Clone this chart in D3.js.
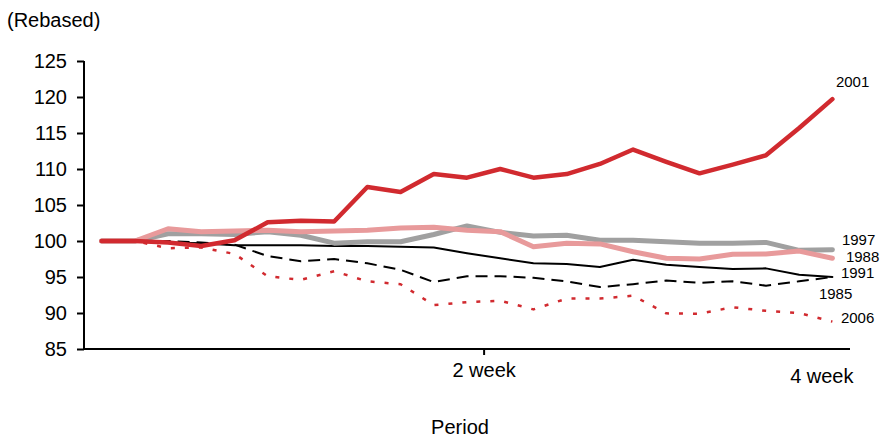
<!DOCTYPE html>
<html>
<head>
<meta charset="utf-8">
<script src="https://cdn.jsdelivr.net/npm/d3@7"></script>
<style>
  html, body { margin: 0; padding: 0; background: #fff; }
  svg { display: block; font-family: "Liberation Sans", Arial, sans-serif; }
</style>
</head>
<body>
<svg id="chart" width="881" height="437"></svg>
<script>
// ---- data ----
const days = d3.range(0, 23); // trading days (23 observations)
const xTickLabels = ["2 week", "4 week"];
const xTickBoundaries = [12, 23]; // category boundaries where ticks sit
const yTicks = [85, 90, 95, 100, 105, 110, 115, 120, 125];

const s2001 = [100, 100, 99.8, 99.3, 100.1, 102.6, 102.8, 102.7, 107.5, 106.8, 109.3, 108.8, 110.0, 108.8, 109.3, 110.7, 112.7, 111.0, 109.4, 110.6, 111.9, 115.7, 119.7];
const s1988 = [100, 100, 101.7, 101.3, 101.4, 101.5, 101.3, 101.4, 101.5, 101.8, 101.9, 101.5, 101.3, 99.2, 99.7, 99.6, 98.5, 97.6, 97.5, 98.15, 98.2, 98.6, 97.6];
const s1997 = [100, 100, 101.0, 101.0, 100.9, 101.3, 100.8, 99.7, 99.9, 99.9, 100.9, 102.1, 101.2, 100.7, 100.8, 100.1, 100.1, 99.9, 99.7, 99.7, 99.8, 98.7, 98.8];
const s1991 = [100, 100, 99.8, 99.7, 99.4, 99.4, 99.4, 99.3, 99.3, 99.2, 99.1, 98.3, 97.6, 96.9, 96.8, 96.4, 97.4, 96.7, 96.4, 96.1, 96.2, 95.3, 95.0];
const s1985 = [100, 100, 100, 99.8, 99.5, 97.9, 97.2, 97.5, 96.9, 96.0, 94.3, 95.1, 95.1, 94.9, 94.4, 93.6, 94.0, 94.5, 94.2, 94.4, 93.8, 94.4, 95.0];
const s2006 = [100, 100, 99.0, 99.1, 98.2, 95.1, 94.6, 95.8, 94.4, 94.0, 91.1, 91.5, 91.7, 90.5, 92.0, 92.0, 92.4, 89.95, 89.9, 90.8, 90.3, 90.0, 88.8];

const seriesNames = ["1985", "2006", "1991", "1997", "1988", "2001"];
const seriesValues = [s1985, s2006, s1991, s1997, s1988, s2001];

// ---- styles ----
const styles = {
  "2001": { color: "#d12a2f", width: 4.5, dash: null },
  "1988": { color: "#e89a9b", width: 5, dash: null },
  "1997": { color: "#a0a0a0", width: 5, dash: null },
  "1991": { color: "#000000", width: 2, dash: null },
  "1985": { color: "#000000", width: 2, dash: "12,7" },
  "2006": { color: "#d12a2f", width: 2.5, dash: "4,10" }
};
const labelPos = {
  "2001": { dx: 3.5, dy: -12 },
  "1997": { dx: 9.5, dy: -4.6 },
  "1988": { dx: 13.5, dy: 3.7 },
  "1991": { dx: 8.5, dy: 1.4 },
  "1985": { dx: -13.5, dy: 22.4 },
  "2006": { dx: 8.5, dy: 1.6 }
};

const svg = d3.select("#chart");
const mLeft = 85, mRight = 849, mTop = 61, mBottom = 349;

const x = d3.scaleBand().domain(days).range([mLeft, mRight]).padding(0);
const xb = d3.scaleLinear().domain([0, days.length]).range([mLeft, mRight]);
const y = d3.scaleLinear().domain([85, 125]).range([mBottom, mTop]);
const cx = d => x(d) + x.bandwidth() / 2;

// y axis
const yAxis = svg.append("g")
  .attr("transform", `translate(${mLeft - 1},0)`)
  .call(d3.axisLeft(y).tickValues(yTicks).tickSize(7).tickSizeOuter(0).tickPadding(10));
yAxis.select(".domain").attr("stroke", "#000").attr("stroke-width", 2)
  .attr("d", `M0,${mTop}V${mBottom + 1}`);
yAxis.selectAll(".tick line").attr("stroke", "#000").attr("stroke-width", 2);
yAxis.selectAll(".tick text").attr("font-size", 20).attr("fill", "#000")
  .attr("font-family", "Liberation Sans, Arial, sans-serif");

// x axis
const xAxis = svg.append("g")
  .attr("transform", `translate(0,${mBottom})`)
  .call(d3.axisBottom(xb).tickValues(xTickBoundaries)
    .tickFormat((d, i) => xTickLabels[i]).tickSize(6).tickSizeOuter(0).tickPadding(8));
xAxis.select(".domain").attr("stroke", "#000").attr("stroke-width", 2)
  .attr("d", `M${mLeft - 2},0H${mRight + 1}`);
xAxis.selectAll(".tick line").attr("stroke", "#000").attr("stroke-width", 2);
xAxis.selectAll(".tick text").attr("font-size", 20).attr("fill", "#000")
  .attr("font-family", "Liberation Sans, Arial, sans-serif");
xAxis.selectAll(".tick").filter(d => d === days.length).select("line").remove();
xAxis.selectAll(".tick").filter(d => d === days.length).select("text")
  .attr("text-anchor", "end").attr("dx", 4).attr("dy", "1.0em");

// axis titles
svg.append("text").attr("x", 7).attr("y", 27).attr("font-size", 20).text("(Rebased)");
svg.append("text").attr("x", 460).attr("y", 434).attr("text-anchor", "middle")
  .attr("font-size", 20).text("Period");

// lines
const line = d3.line().x((d, i) => cx(days[i])).y(d => y(d));
seriesNames.forEach((name, k) => {
  const st = styles[name];
  svg.append("path")
    .datum(seriesValues[k])
    .attr("fill", "none")
    .attr("stroke", st.color)
    .attr("stroke-width", st.width)
    .attr("stroke-linejoin", "round")
    .attr("stroke-linecap", st.dash ? "butt" : "round")
    .attr("stroke-dasharray", st.dash)
    .attr("d", line);
});

// labels
seriesNames.forEach((name, k) => {
  const vals = seriesValues[k];
  const last = vals[vals.length - 1];
  const p = labelPos[name];
  svg.append("text")
    .attr("x", cx(days[days.length - 1]) + p.dx)
    .attr("y", y(last) + p.dy)
    .attr("font-size", 15)
    .attr("fill", "#000")
    .text(name);
});
</script>
</body>
</html>
